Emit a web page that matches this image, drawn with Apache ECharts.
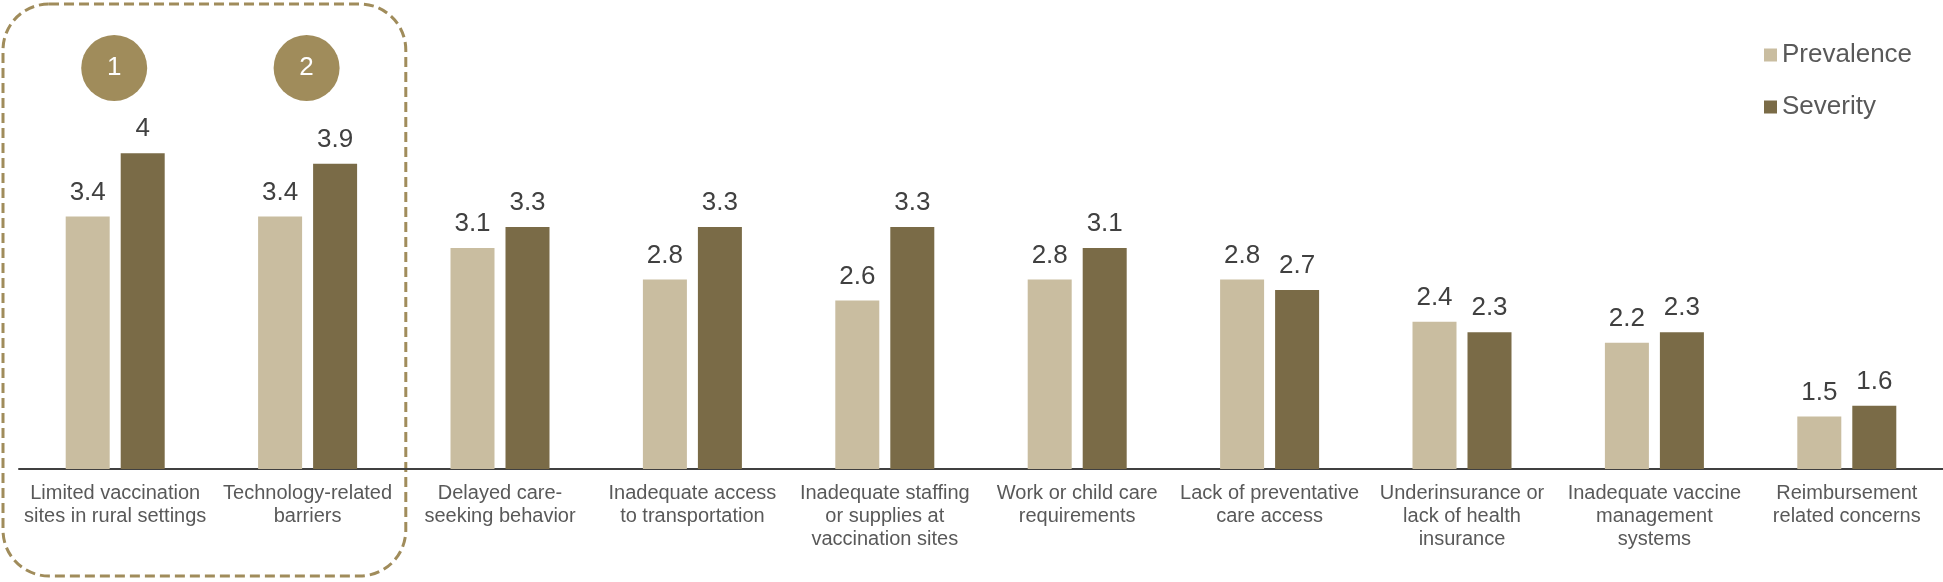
<!DOCTYPE html>
<html>
<head>
<meta charset="utf-8">
<script src="https://cdn.jsdelivr.net/npm/echarts@6/dist/echarts.min.js"></script>
<style>
html,body{margin:0;padding:0;background:#fff;}
#c{width:1943px;height:582px;}
</style>
</head>
<body>
<div id="c"></div>
<script>
const categories = [
  "Limited vaccination\nsites in rural settings",
  "Technology-related\nbarriers",
  "Delayed care-\nseeking behavior",
  "Inadequate access\nto transportation",
  "Inadequate staffing\nor supplies at\nvaccination sites",
  "Work or child care\nrequirements",
  "Lack of preventative\ncare access",
  "Underinsurance or\nlack of health\ninsurance",
  "Inadequate vaccine\nmanagement\nsystems",
  "Reimbursement\nrelated concerns"
];
const prevalence = [3.4, 3.4, 3.1, 2.8, 2.6, 2.8, 2.8, 2.4, 2.2, 1.5];
const severity   = [4.0, 3.9, 3.3, 3.3, 3.3, 3.1, 2.7, 2.3, 2.3, 1.6];
const seriesNames = ["Prevalence", "Severity"];
const badges = [{ index: 0, text: "1" }, { index: 1, text: "2" }];

const FONT = "'Liberation Sans', Arial, sans-serif";
const chart = echarts.init(document.getElementById('c'), null, { renderer: 'canvas' });

const labelStyle = {
  show: true, position: 'top', distance: 11,
  fontFamily: FONT, fontSize: 26, color: '#404040'
};

chart.setOption({
  animation: false,
  backgroundColor: '#ffffff',
  grid: { left: 19, right: 0, top: 48, bottom: 113, containLabel: false },
  legend: {
    data: seriesNames,
    orient: 'vertical',
    left: 1759, top: 37,
    itemWidth: 13, itemHeight: 13, itemGap: 26,
    icon: 'rect',
    textStyle: { fontFamily: FONT, fontSize: 26, color: '#595959', padding: [0, 0, 0, 0] },
    selectedMode: false
  },
  xAxis: {
    type: 'category',
    data: categories,
    axisLine: { lineStyle: { color: '#404040', width: 2 } },
    axisTick: { show: false },
    axisLabel: {
      interval: 0, margin: 13,
      fontFamily: FONT, fontSize: 20, lineHeight: 23, color: '#595959', align: 'center'
    }
  },
  yAxis: {
    type: 'value', min: 1, max: 5, interval: 1,
    show: false, splitLine: { show: false }
  },
  series: [
    {
      name: seriesNames[0], type: 'bar', data: prevalence,
      barWidth: 44, barGap: '25%',
      itemStyle: { color: '#C9BDA0' },
      label: labelStyle
    },
    {
      name: seriesNames[1], type: 'bar', data: severity,
      barWidth: 44, barGap: '25%',
      itemStyle: { color: '#7A6B47' },
      label: labelStyle
    }
  ]
});

const graphics = [];
// dashed rounded box around the first two categories
const x0 = chart.convertToPixel({ xAxisIndex: 0 }, 0);
const x1 = chart.convertToPixel({ xAxisIndex: 0 }, 1);
const half = (x1 - x0) / 2;
graphics.push({
  type: 'rect', silent: true,
  shape: { x: x0 - half - 16, y: 4, width: (x1 + half) - (x0 - half) + 18, height: 572, r: 46 },
  style: { fill: 'none', stroke: '#A08C5B', lineWidth: 3, lineDash: [10, 5] }
});
badges.forEach(b => {
  const cx = chart.convertToPixel({ xAxisIndex: 0 }, b.index);
  graphics.push({
    type: 'circle', silent: true,
    shape: { cx: cx - 1, cy: 68, r: 33 },
    style: { fill: '#A08C5B' }
  });
  graphics.push({
    type: 'text', silent: true,
    x: cx - 1, y: 68,
    style: { text: b.text, fill: '#ffffff', font: '26px ' + FONT, align: 'center', verticalAlign: 'middle' }
  });
});
chart.setOption({ graphic: graphics });
</script>
</body>
</html>
